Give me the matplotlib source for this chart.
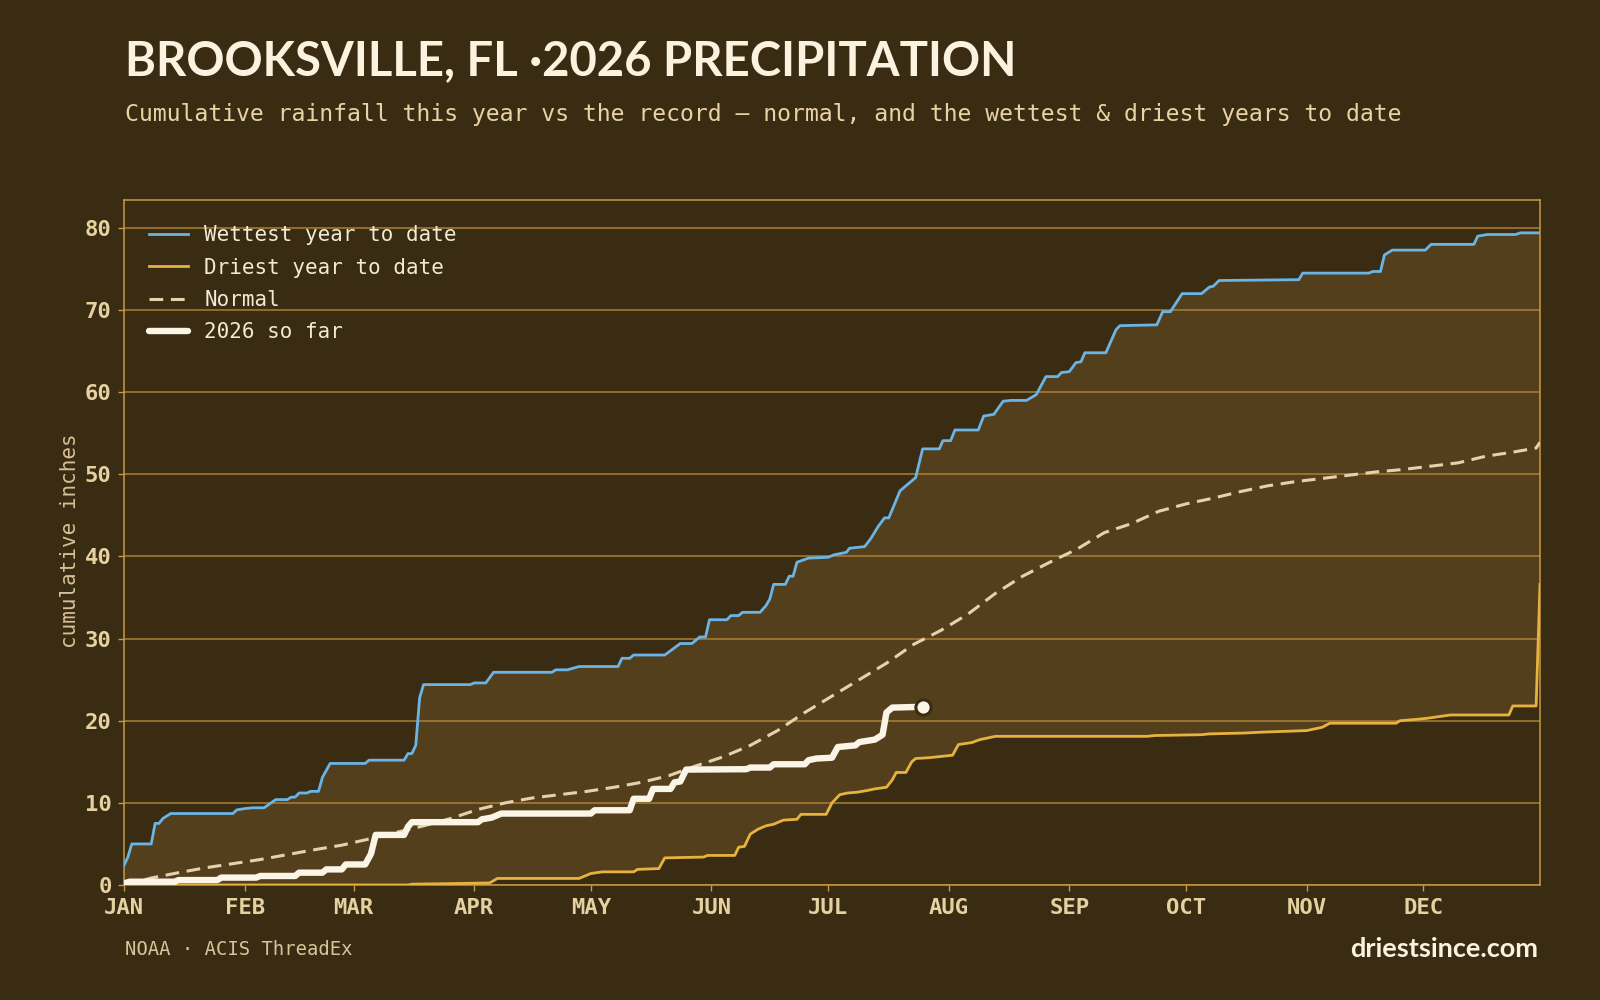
import numpy as np
import matplotlib
matplotlib.use("Agg")
import matplotlib.pyplot as plt
from matplotlib.lines import Line2D

# day of year (0 = Jan 1) and cumulative inches
wet_day = [0, 1, 2, 7, 8, 9, 10, 12, 28, 29, 31, 33, 36, 39, 42, 43, 44, 45, 47, 48, 50, 51, 53,
           62, 63, 72, 73, 74, 75, 76, 77, 89, 90, 93, 95, 110, 111, 114, 117, 127, 128, 130, 131,
           139, 141, 143, 146, 148, 149.5, 150.5, 155, 156, 158, 159, 163.5, 165, 166, 167, 170,
           171, 172, 173, 176, 181, 182.5, 185.7, 186.5, 190.4, 192, 193.8, 195.5, 196.6, 199.5,
           203.5, 205.3, 209.6, 210.5, 212.5, 213.6, 219.6, 221, 223.6, 226, 228, 232, 234.5, 237,
           240, 241, 243, 244.7, 246, 247, 252.4, 255, 256, 265.5, 267, 269, 272, 277, 279, 280,
           281.5, 302, 303, 320, 321, 323, 324, 326, 334.5, 336, 347, 348, 350.5, 357.7, 359, 364]
wet_in = [2.4, 3.4, 5.0, 5.0, 7.5, 7.5, 8.1, 8.7, 8.7, 9.15, 9.3, 9.4, 9.4, 10.4, 10.4, 10.7, 10.7,
          11.2, 11.2, 11.4, 11.4, 13.1, 14.8, 14.8, 15.2, 15.2, 16.0, 16.0, 17.0, 22.8, 24.4, 24.4,
          24.6, 24.6, 25.9, 25.9, 26.2, 26.2, 26.6, 26.6, 27.6, 27.6, 28.0, 28.0, 28.7, 29.4, 29.4,
          30.2, 30.2, 32.3, 32.3, 32.8, 32.8, 33.2, 33.2, 34.0, 34.8, 36.6, 36.6, 37.6, 37.6, 39.3,
          39.8, 39.9, 40.2, 40.5, 41.0, 41.2, 42.2, 43.6, 44.7, 44.7, 48.0, 49.6, 53.1, 53.1, 54.1,
          54.1, 55.4, 55.4, 57.1, 57.3, 58.9, 59.0, 59.0, 59.7, 61.9, 61.9, 62.4, 62.5, 63.6, 63.7,
          64.8, 64.8, 67.6, 68.1, 68.2, 69.8, 69.8, 72.0, 72.0, 72.8, 72.9, 73.6, 73.7, 74.5, 74.5,
          74.7, 74.7, 76.7, 77.3, 77.3, 78.0, 78.0, 79.0, 79.2, 79.2, 79.4, 79.4]

dry_day = [0, 73, 74, 88, 94, 96, 117, 120, 123, 131, 132, 137.5, 139, 149, 150, 157, 158, 159.5,
           161, 163, 165, 167, 169.5, 173, 174, 180.5, 182, 184, 186, 188.5, 191, 193, 196, 197.5,
           198.5, 201, 202.5, 203.5, 207, 211, 213, 214.5, 218, 220, 222, 224, 263, 265, 277, 279,
           288, 292, 304, 306, 308, 310, 327, 328, 333, 335, 341, 356, 357, 363, 364]
dry_in = [0.0, 0.0, 0.1, 0.2, 0.25, 0.8, 0.8, 1.4, 1.6, 1.6, 1.9, 2.0, 3.3, 3.4, 3.6, 3.6, 4.6,
          4.7, 6.2, 6.8, 7.2, 7.4, 7.9, 8.0, 8.6, 8.6, 10.0, 11.0, 11.2, 11.3, 11.5, 11.7, 11.9,
          12.8, 13.7, 13.7, 15.0, 15.4, 15.5, 15.7, 15.8, 17.1, 17.35, 17.7, 17.9, 18.1, 18.1, 18.2,
          18.3, 18.4, 18.5, 18.6, 18.8, 19.0, 19.2, 19.7, 19.7, 20.0, 20.2, 20.3, 20.7, 20.7, 21.8,
          21.8, 36.6]

norm_day = [0, 7, 14, 21, 28, 35, 42, 49, 56, 63, 70, 77, 84, 91, 98, 105, 112, 119, 126, 133,
            140, 147, 154, 161, 168, 175, 182, 189, 196, 203, 210, 217, 224, 231, 238, 245, 252,
            259, 266, 273, 280, 287, 294, 301, 308, 315, 322, 329, 336, 343, 350, 357, 363, 364]
norm_in = [0.0, 0.85, 1.5, 2.1, 2.6, 3.1, 3.7, 4.3, 4.85, 5.6, 6.4, 7.2, 8.1, 9.2, 10.0, 10.6,
           11.0, 11.4, 11.9, 12.5, 13.3, 14.5, 15.6, 17.0, 18.8, 21.0, 23.0, 25.0, 27.0, 29.3, 31.0,
           33.0, 35.5, 37.6, 39.3, 40.9, 42.9, 44.0, 45.5, 46.4, 47.1, 47.9, 48.6, 49.1, 49.5, 49.9,
           50.3, 50.6, 51.0, 51.4, 52.2, 52.7, 53.2, 53.9]

cur_day = [0, 1.5, 13, 14, 24, 25, 34, 35, 44, 45, 51, 52, 56, 57, 62, 63.5, 64.7, 72, 73, 74, 91,
           92, 94.5, 97, 120, 121, 130, 131, 135, 136, 140.5, 141.5, 143, 144.5, 160, 161, 166, 167,
           175, 176, 178, 182, 183.5, 188, 189, 193, 194, 195, 196, 197.5, 205.5]
cur_in = [0.2, 0.4, 0.4, 0.6, 0.6, 0.9, 0.9, 1.1, 1.1, 1.5, 1.5, 1.9, 1.9, 2.5, 2.5, 3.8, 6.1, 6.1,
          7.1, 7.65, 7.65, 8.0, 8.2, 8.7, 8.7, 9.1, 9.1, 10.5, 10.5, 11.7, 11.7, 12.5, 12.6, 14.05,
          14.1, 14.3, 14.3, 14.7, 14.7, 15.2, 15.4, 15.5, 16.8, 17.0, 17.4, 17.7, 18.0, 18.3, 21.0,
          21.6, 21.7]

month_day = [0, 31, 59, 90, 120, 151, 181, 212, 243, 273, 304, 334]
month_lab = ["JAN", "FEB", "MAR", "APR", "MAY", "JUN", "JUL", "AUG", "SEP", "OCT", "NOV", "DEC"]

bg = "#3a2b13"
band = "#543f1d"
gridc = "#ab8034"
spinec = "#c89a45"
blue = "#6ab4e6"
gold = "#e8b23e"
normc = "#e3d2ac"
cur = "#fbf5e7"
mono = "DejaVu Sans Mono"

fig = plt.figure(figsize=(16, 10), dpi=100, facecolor=bg)
ax = fig.add_axes([0.0775, 0.115, 0.885, 0.685], facecolor=bg)

# band between driest and wettest
ax.fill(np.r_[wet_day, dry_day[::-1]], np.r_[wet_in, dry_in[::-1]], color=band, lw=0, zorder=1)

ax.plot(wet_day, wet_in, color=blue, lw=2.0, zorder=3)
ax.plot(dry_day, dry_in, color=gold, lw=2.0, zorder=3)
ax.plot(norm_day, norm_in, color=normc, lw=2.2, dashes=(4.5, 2.5), zorder=4)
ax.plot(cur_day, cur_in, color=cur, lw=4.6, solid_capstyle="round", zorder=5)
ax.plot(cur_day[-1:], cur_in[-1:], "o", ms=11, mfc=cur, mec="#3a2b13", mew=2.2, zorder=6)

ax.set_xlim(0, 364)
ax.set_ylim(0, 83.4)
ax.set_yticks(range(0, 81, 10))
ax.set_xticks(month_day)
ax.set_xticklabels(month_lab)
ax.grid(axis="y", color=gridc, lw=1.1)
ax.set_axisbelow("line")
for s in ax.spines.values():
    s.set_color(spinec)
    s.set_linewidth(1.1)
ax.tick_params(colors=spinec, length=4, width=1)
for lab in ax.get_xticklabels() + ax.get_yticklabels():
    lab.set_fontfamily(mono)
    lab.set_fontweight("bold")
    lab.set_fontsize(16)
    lab.set_color("#e6d1a0")
ax.tick_params(axis="x", pad=5)
ax.tick_params(axis="y", pad=5)

handles = [Line2D([], [], color=blue, lw=2.0),
           Line2D([], [], color=gold, lw=2.0),
           Line2D([], [], color=normc, lw=2.2, dashes=(4.5, 2.5)),
           Line2D([], [], color=cur, lw=4.6, solid_capstyle="round")]
labels = ["Wettest year to date", "Driest year to date", "Normal", "2026 so far"]
leg = ax.legend(handles, labels, loc="upper left", frameon=False,
                prop={"family": mono, "size": 15}, labelcolor="#f3ead6",
                handlelength=1.85, handletextpad=0.8, labelspacing=0.6,
                borderaxespad=0.6, borderpad=0.6)

fig.text(0.0435, 0.459, "cumulative inches", rotation=90, ha="center", va="center",
         family=mono, fontsize=15, color="#d6c196")

fig.text(0.078, 0.925, "BROOKSVILLE, FL \u00b72026 PRECIPITATION", family="Lato",
         fontweight="bold", fontsize=34, color="#fbf3e0", va="baseline")
fig.text(0.078, 0.8785, "Cumulative rainfall this year vs the record \u2014 normal, and the "
         "wettest & driest years to date", family=mono, fontsize=16.7, color="#e8d3a4",
         va="baseline")
fig.text(0.078, 0.045, "NOAA \u00b7 ACIS ThreadEx", family=mono, fontsize=13.6,
         color="#d8c49a", va="baseline")
fig.text(0.9615, 0.043, "driestsince.com", family="Lato", fontweight="bold", fontsize=19.5,
         color="#fbf3e0", ha="right", va="baseline")

fig.savefig("out.png", dpi=100, facecolor=bg)
